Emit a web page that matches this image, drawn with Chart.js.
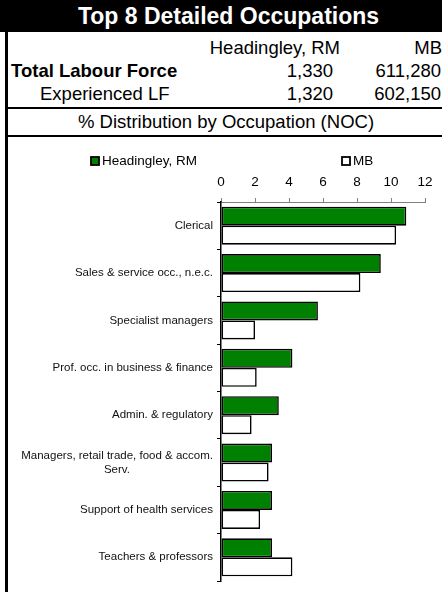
<!DOCTYPE html>
<html>
<head>
<meta charset="utf-8">
<title>Top 8 Detailed Occupations</title>
<script src="https://cdn.jsdelivr.net/npm/chart.js@4.4.1/dist/chart.umd.min.js"></script>
<style>
  body { margin: 0; background: #fff; font-family: "Liberation Sans", Arial, sans-serif; }
  #page { position: relative; width: 442px; height: 592px; overflow: hidden; color: #000; }
  #title {
    position: absolute; left: 0; top: 0; width: 457px; height: 32px;
    background: #000; color: #fff; font-weight: bold; font-size: 23px;
    line-height: 32px; text-align: center;
  }
  #vline { position: absolute; left: 5px; top: 32px; width: 3px; height: 560px; background: #000; }
  .t { position: absolute; font-size: 18.5px; line-height: 22px; white-space: nowrap; }
  .r { text-align: right; }
  .hline { position: absolute; left: 5px; width: 445px; height: 2px; background: #000; }
  #noc { position: absolute; left: 8px; width: 436px; top: 111px; text-align: center; }
  #chartBox { position: absolute; left: 9px; top: 137px; }
</style>
</head>
<body>
<div id="page">
  <div id="title">Top 8 Detailed Occupations</div>
  <div id="vline"></div>

  <div class="t r" style="right:102px; top:37px;">Headingley, RM</div>
  <div class="t r" style="right:0px; top:37px;">MB</div>

  <div class="t" style="left:11px; top:60px; font-weight:bold;">Total Labour Force</div>
  <div class="t r" style="right:109px; top:60px;">1,330</div>
  <div class="t r" style="right:1px; top:60px;">611,280</div>

  <div class="t" style="left:40px; top:83px;">Experienced LF</div>
  <div class="t r" style="right:109px; top:83px;">1,320</div>
  <div class="t r" style="right:1px; top:83px;">602,150</div>

  <div class="hline" style="top:107px;"></div>
  <div class="t" id="noc">% Distribution by Occupation (NOC)</div>
  <div class="hline" style="top:135px;"></div>

  <div id="chartBox"><canvas id="occChart" width="433" height="455"></canvas></div>
</div>

<script>
const occupations = [
  'Clerical',
  'Sales & service occ., n.e.c.',
  'Specialist managers',
  'Prof. occ. in business & finance',
  'Admin. & regulatory',
  ['Managers, retail trade, food & accom.', 'Serv.'],
  'Support of health services',
  'Teachers & professors',
];
const headingleyPct = [10.9, 9.4, 5.7, 4.2, 3.4, 3.0, 3.0, 3.0];
const mbPct = [10.3, 8.2, 2.0, 2.1, 1.8, 2.8, 2.3, 4.2];
const pctTicks = [0, 2, 4, 6, 8, 10, 12];

const labelFont = '11.5px "Liberation Sans", Arial, sans-serif';
const measureCtx = document.createElement('canvas').getContext('2d');

// legend items are spread wide apart in the original, so draw them ourselves
const legendX = [82, 333];
const spreadLegend = {
  id: 'spreadLegend',
  afterDraw(chart) {
    const ctx = chart.ctx;
    ctx.save();
    ctx.font = '13.5px "Liberation Sans", Arial, sans-serif';
    ctx.textBaseline = 'middle';
    ctx.textAlign = 'left';
    chart.data.datasets.forEach((ds, i) => {
      const x = legendX[i];
      const y = 24;
      ctx.fillStyle = ds.backgroundColor;
      ctx.fillRect(x, y - 4, 8, 8);
      ctx.lineWidth = 1.8;
      ctx.strokeStyle = '#000';
      ctx.strokeRect(x, y - 4, 8, 8);
      ctx.fillStyle = '#000';
      ctx.fillText(ds.label, x + 11, y);
    });
    ctx.restore();
  },
};

const ctx = document.getElementById('occChart').getContext('2d');
const chart = new Chart(ctx, {
  type: 'bar',
  data: {
    labels: occupations,
    datasets: [
      {
        label: 'Headingley, RM',
        data: headingleyPct,
        backgroundColor: '#008000',
        borderColor: '#000',
        borderWidth: 1.6,
        borderSkipped: false,
      },
      {
        label: 'MB',
        data: mbPct,
        backgroundColor: '#ffffff',
        borderColor: '#000',
        borderWidth: 1.6,
        borderSkipped: false,
      },
    ],
  },
  options: {
    indexAxis: 'y',
    responsive: false,
    animation: false,
    datasets: {
      bar: { categoryPercentage: 0.8, barPercentage: 1.0 },
    },
    layout: { padding: { top: 34, right: 17, bottom: 11, left: 0 } },
    plugins: {
      legend: { display: false },
      tooltip: { enabled: false },
    },
    scales: {
      x: {
        position: 'top',
        min: pctTicks[0],
        max: pctTicks[pctTicks.length - 1],
        afterBuildTicks: (scale) => {
          scale.ticks = pctTicks.map((v) => ({ value: v }));
        },
        afterFit: (scale) => {
          scale.height = 31;
        },
        ticks: {
          color: '#000',
          padding: 8,
          font: { family: '"Liberation Sans", Arial, sans-serif', size: 13.5 },
        },
        grid: {
          drawOnChartArea: false,
          drawTicks: true,
          tickLength: 4,
          color: '#808080',
        },
        border: { color: '#808080', width: 1 },
      },
      y: {
        afterFit: (scale) => {
          scale.width = 212;
        },
        ticks: {
          color: '#111',
          padding: 4,
          font: { family: '"Liberation Sans", Arial, sans-serif', size: 11.5 },
          callback: function (value) {
            const label = this.getLabelForValue(value);
            if (!Array.isArray(label)) return label;
            // pad shorter lines so they sit centred under the longest one
            measureCtx.font = labelFont;
            const widths = label.map((l) => measureCtx.measureText(l).width);
            const widest = Math.max(...widths);
            const space = measureCtx.measureText(' ').width;
            return label.map((l, i) => l + ' '.repeat(Math.round((widest - widths[i]) / 2 / space)));
          },
        },
        grid: {
          drawOnChartArea: false,
          drawTicks: true,
          tickLength: 4,
          color: '#000',
        },
        border: { color: '#000', width: 1.5 },
      },
    },
  },
  plugins: [spreadLegend],
});
</script>
</body>
</html>
